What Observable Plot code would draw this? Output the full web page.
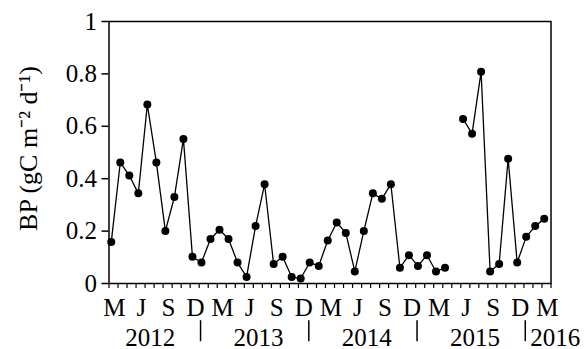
<!DOCTYPE html>
<html>
<head>
<meta charset="utf-8">
<script src="https://cdn.jsdelivr.net/npm/d3@7"></script>
<script src="https://cdn.jsdelivr.net/npm/@observablehq/plot@0.6"></script>
<style>
  html, body { margin: 0; padding: 0; background: #fff; }
  #chart { width: 584px; height: 349px; }
  #chart svg, #chart svg text { font-family: "Liberation Serif", "Times New Roman", serif !important; }
</style>
</head>
<body>
<div id="chart"></div>
<script>
// Monthly sampling, March 2012 – March 2016
const months = [
  "2012-03","2012-04","2012-05","2012-06","2012-07","2012-08","2012-09","2012-10","2012-11","2012-12",
  "2013-01","2013-02","2013-03","2013-04","2013-05","2013-06","2013-07","2013-08","2013-09","2013-10","2013-11","2013-12",
  "2014-01","2014-02","2014-03","2014-04","2014-05","2014-06","2014-07","2014-08","2014-09","2014-10","2014-11","2014-12",
  "2015-01","2015-02","2015-03","2015-04","2015-05","2015-06","2015-07","2015-08","2015-09","2015-10","2015-11","2015-12",
  "2016-01","2016-02","2016-03"
];
// BP (gC m-2 d-1); null = no sample
const bp = [
  0.158, 0.462, 0.412, 0.344, 0.683, 0.462, 0.200, 0.330, 0.552, 0.102,
  0.080, 0.170, 0.205, 0.170, 0.080, 0.025, 0.219, 0.379, 0.074, 0.102, 0.025, 0.019,
  0.080, 0.067, 0.164, 0.233, 0.193, 0.046, 0.200, 0.344, 0.323, 0.379, 0.060, 0.108,
  0.067, 0.108, 0.046, 0.060, null, 0.628, 0.572, 0.808, 0.046, 0.074, 0.476, 0.080,
  0.178, 0.219, 0.247
];
const monthTickLabels = ["M","J","S","D","M","J","S","D","M","J","S","D","M","J","S","D","M"];
const yearLabels = ["2012","2013","2014","2015","2016"];
const yTicks = [0, 0.2, 0.4, 0.6, 0.8, 1];
const yLabel = "BP (gC m\u207B\u00B2 d\u207B\u00B9)";

const data = months.map((m, i) => ({i, month: m, bp: bp[i]}));
const idxOf = (ym) => months.indexOf(ym);

// month label positions: every third month starting March
const monthTickIdx = monthTickLabels.map((_, k) => k * 3);
// minor ticks: one per month boundary
const minorTicks = d3.range(months.length + 1).map(k => k - 0.25);
// year labels centred on July, 2016 starts at January
const yearCenters = yearLabels.slice(0, 4).map(y => ({t: y, i: idxOf(y + "-07")}));
const yearSeps = ["2013","2014","2015","2016"].map(y => idxOf(y + "-01") - 0.1);

const font = "Liberation Serif";
const fs = 25;

const chart = Plot.plot({
  width: 584,
  height: 349,
  marginLeft: 108.5,
  marginRight: 33.5,
  marginTop: 21,
  marginBottom: 66,
  style: {fontSize: fs + "px", background: "white", color: "black"},
  x: {type: "linear", domain: [-0.25, 48.75], axis: null},
  y: {domain: [0, 1], axis: null},
  marks: [
    Plot.axisY(yTicks, {tickSize: 7, tickPadding: 5, strokeWidth: 1.5, fontSize: fs, fontFamily: font, tickFormat: d => String(d), label: null}),
    Plot.axisX(minorTicks, {tickSize: 5, strokeWidth: 1.2, tickFormat: () => "", label: null}),
    Plot.frame({stroke: "black", strokeWidth: 1.5}),
    Plot.line(data, {x: "i", y: "bp", stroke: "black", strokeWidth: 1.3}),
    Plot.dot(data.filter(d => d.bp != null), {x: "i", y: "bp", r: 4, fill: "black", stroke: null}),
    Plot.text(monthTickIdx, {x: d => d, text: (d, k) => monthTickLabels[k], frameAnchor: "bottom", lineAnchor: "middle", dy: 24, dx: 3, fontSize: fs, fontFamily: font, fill: "black"}),
    Plot.text(yearCenters, {x: "i", text: "t", frameAnchor: "bottom", lineAnchor: "middle", dy: 54, dx: 3, fontSize: fs, fontFamily: font, fill: "black"}),
    Plot.text([yearLabels[4]], {x: () => idxOf("2016-01"), text: d => d, frameAnchor: "bottom", lineAnchor: "middle", dy: 54, dx: 4, textAnchor: "start", fontSize: fs, fontFamily: font, fill: "black"}),
    Plot.ruleX(yearSeps, {x: d => d, y1: -0.142, y2: -0.222, stroke: "black", strokeWidth: 1.5}),
    Plot.text([yLabel], {frameAnchor: "left", textAnchor: "middle", lineAnchor: "middle", rotate: -90, dx: -80, dy: -4, fontSize: fs + 1, fontFamily: font, fill: "black"})
  ]
});
document.getElementById("chart").appendChild(chart);
</script>
</body>
</html>
